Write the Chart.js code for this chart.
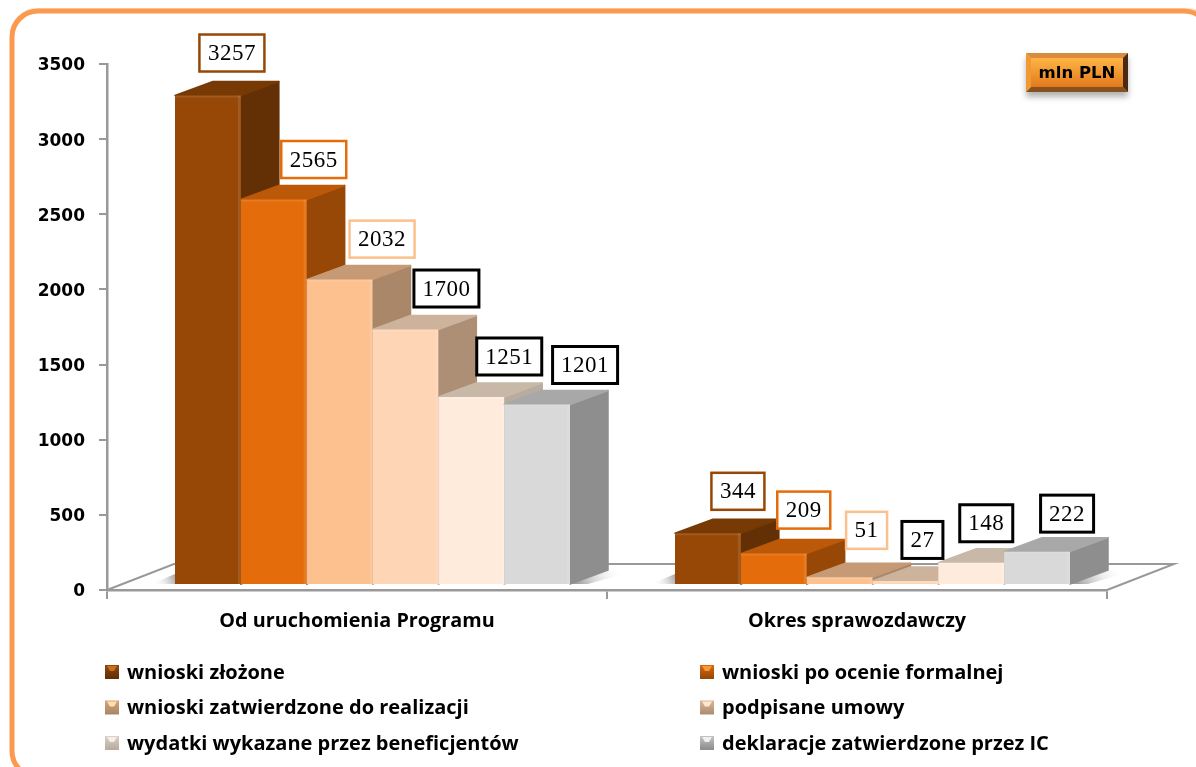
<!DOCTYPE html>
<html lang="pl">
<head>
<meta charset="utf-8">
<title>Wnioski</title>
<script src="https://cdn.jsdelivr.net/npm/chart.js@4"></script>
<style>
html, body { margin: 0; padding: 0; background: #fff; overflow: hidden; }
canvas { display: block; }
</style>
</head>
<body>
<canvas id="barChart" width="1196" height="767"></canvas>
<script>
// Dane wykresu
const categories = ['Od uruchomienia Programu', 'Okres sprawozdawczy'];
const seriesNames = [
    'wnioski złożone',
    'wnioski po ocenie formalnej',
    'wnioski zatwierdzone do realizacji',
    'podpisane umowy',
    'wydatki wykazane przez beneficjentów',
    'deklaracje zatwierdzone przez IC'
];
const wnioskiZlozone = [3257, 344];
const wnioskiPoOcenie = [2565, 209];
const wnioskiZatwierdzone = [2032, 51];
const podpisaneUmowy = [1700, 27];
const wydatkiWykazane = [1251, 148];
const deklaracjeZatwierdzone = [1201, 222];
const yTicks = [0, 500, 1000, 1500, 2000, 2500, 3000, 3500];

// Kolory: przód, bok, góra, ramka etykiety, znacznik legendy
const frontColors = ['#974806', '#E46C0A', '#FCC18F', '#FED5B5', '#FFEBDC', '#D9D9D9'];
const sideColors = ['#623004', '#974806', '#A98768', '#AD8F76', '#B8ACA0', '#8E8E8E'];
const topColors = ['#773A05', '#BC5908', '#C59A75', '#CDB29C', '#C8B8A8', '#A8A8A8'];
const boxColors = ['#974806', '#E46C0A', '#FBC08C', '#000000', '#000000', '#000000'];
const markerBody = ['#8F4A10', '#D9680E', '#D6A47A', '#DDB595', '#DDD0C4', '#C4C4C4'];
const markerLight = ['#C8701F', '#F59A35', '#FFE0A8', '#FFE7CF', '#F8F0E8', '#F0F0F0'];

// Przesunięcia etykiet względem słupka [grupa][seria]
const labelDx = [[24, 40, 42.5, 41, 38, 48], [30, 30, 27, 17, 15, 30]];
const labelDy = [[-42.5, -40, -40.5, -41, -40.5, -39.5], [-42, -43.5, -47, -41, -39.5, -38]];

const depthX = 38, depthY = 14;
const floorX = 67, floorY = 26;
const shiftX = 15.5, shiftY = -5;
const sansFont = '"Open Sans", Lato, sans-serif';

function poly(ctx, pts, fill) {
    ctx.beginPath();
    pts.forEach((p, i) => i ? ctx.lineTo(p[0], p[1]) : ctx.moveTo(p[0], p[1]));
    ctx.closePath();
    ctx.fillStyle = fill;
    ctx.fill();
}

// wielokąt z lekko zaokrąglonymi rogami
function softPoly(ctx, pts, fill) {
    poly(ctx, pts, fill);
    ctx.strokeStyle = fill;
    ctx.lineWidth = 1.5;
    ctx.lineJoin = 'round';
    ctx.stroke();
}

function drawBevel(ctx, x, y, w, h, b, center, topC, rightC, bottomC, leftC) {
    ctx.fillStyle = center;
    ctx.fillRect(x, y, w, h);
    poly(ctx, [[x, y], [x + w, y], [x + w - b, y + b], [x + b, y + b]], topC);
    poly(ctx, [[x + w, y], [x + w, y + h], [x + w - b, y + h - b], [x + w - b, y + b]], rightC);
    poly(ctx, [[x, y + h], [x + w, y + h], [x + w - b, y + h - b], [x + b, y + h - b]], bottomC);
    poly(ctx, [[x, y], [x, y + h], [x + b, y + h - b], [x + b, y + b]], leftC);
}

function drawMarker(ctx, x, y, i) {
    const grad = ctx.createLinearGradient(0, y, 0, y + 13);
    grad.addColorStop(0, markerBody[i]);
    grad.addColorStop(1, sideColors[i]);
    ctx.fillStyle = grad;
    ctx.fillRect(x, y, 14, 14);
    poly(ctx, [[x + 2, y + 1], [x + 12, y + 1], [x + 9, y + 6], [x + 5, y + 6]], markerLight[i]);
}

const ramka3d = {
    id: 'ramka3d',
    beforeDraw(chart) {
        const ctx = chart.ctx;
        ctx.save();
        ctx.fillStyle = '#fff';
        ctx.fillRect(0, 0, chart.width, chart.height);
        ctx.strokeStyle = '#FFE3CC';
        ctx.lineWidth = 2;
        ctx.beginPath();
        ctx.roundRect(11, 9, 1203, 768, 26);
        ctx.stroke();
        ctx.strokeStyle = '#FB9A4E';
        ctx.lineWidth = 5;
        ctx.beginPath();
        ctx.roundRect(12, 11, 1198, 766, 26);
        ctx.stroke();
        ctx.restore();
    },
    beforeDatasetsDraw(chart) {
        const ctx = chart.ctx;
        const xs = chart.scales.x, ys = chart.scales.y;
        const base = ys.bottom;

        // Podłoga
        ctx.save();
        ctx.strokeStyle = '#999999';
        ctx.lineWidth = 2;
        ctx.beginPath();
        ctx.moveTo(xs.left, base);
        ctx.lineTo(xs.left + floorX, base - floorY);
        ctx.lineTo(xs.right + floorX, base - floorY);
        ctx.lineTo(xs.right, base);
        ctx.stroke();
        ctx.restore();

        // Cienie na podłodze
        ctx.save();
        ctx.translate(shiftX, shiftY);
        categories.forEach((c, g) => {
            const first = chart.getDatasetMeta(0).data[g];
            const last = chart.getDatasetMeta(5).data[g];
            const left = first.x - first.width / 2;
            const right = last.x + last.width / 2;
            const b = first.base;
            const sr = ctx.createLinearGradient(right + 8, b, right + 48, b - 22);
            sr.addColorStop(0, 'rgba(130,130,130,0.75)');
            sr.addColorStop(1, 'rgba(255,255,255,0)');
            poly(ctx, [[right, b], [right + depthX, b - depthY], [right + depthX + 30, b - depthY], [right + 18, b]], sr);
            const sl = ctx.createLinearGradient(left - 22, b, left, b - 8);
            sl.addColorStop(0, 'rgba(255,255,255,0)');
            sl.addColorStop(1, 'rgba(130,130,130,0.7)');
            poly(ctx, [[left - 24, b], [left, b - 10], [left, b]], sl);
        });

        // Słupki 3D, od lewej do prawej
        categories.forEach((c, g) => {
            chart.data.datasets.forEach((ds, s) => {
                const el = chart.getDatasetMeta(s).data[g];
                const left = el.x - el.width / 2, right = el.x + el.width / 2;
                softPoly(ctx, [[right, el.y], [right + depthX, el.y - depthY], [right + depthX, el.base - depthY], [right, el.base]], sideColors[s]);
                softPoly(ctx, [[left, el.y], [left + depthX, el.y - depthY], [right + depthX, el.y - depthY], [right, el.y]], topColors[s]);
                el.draw(ctx);
                // jaśniejsze krawędzie frontu
                ctx.fillStyle = 'rgba(255,255,255,0.1)';
                ctx.fillRect(left, el.y, el.width, Math.min(2, el.base - el.y));
                ctx.fillRect(right - 3, el.y, 3, el.base - el.y);
            });
        });
        ctx.restore();
        return false;
    },
    afterDraw(chart) {
        const ctx = chart.ctx;

        // Etykiety wartości
        ctx.save();
        ctx.textAlign = 'center';
        ctx.textBaseline = 'middle';
        ctx.font = '23px "Liberation Serif", serif';
        ctx.letterSpacing = '0.5px';
        chart.data.datasets.forEach((ds, s) => {
            chart.getDatasetMeta(s).data.forEach((el, g) => {
                const text = String(ds.data[g]);
                const cx = el.x + shiftX + labelDx[g][s];
                const cy = el.y + shiftY + labelDy[g][s];
                const w = ctx.measureText(text).width + 17;
                const h = 37;
                ctx.fillStyle = '#fff';
                ctx.fillRect(cx - w / 2, cy - h / 2, w, h);
                ctx.strokeStyle = boxColors[s];
                ctx.lineWidth = s > 2 ? 3 : 2.5;
                ctx.strokeRect(cx - w / 2, cy - h / 2, w, h);
                ctx.fillStyle = '#000';
                ctx.fillText(text, cx, cy + 1);
            });
        });
        ctx.letterSpacing = '0px';
        ctx.restore();

        // Legenda w dwóch kolumnach
        ctx.save();
        ctx.textBaseline = 'middle';
        ctx.textAlign = 'left';
        ctx.font = 'bold 20px ' + sansFont;
        seriesNames.forEach((name, i) => {
            const x = i % 2 ? 700 : 105;
            const y = 672 + Math.floor(i / 2) * 35.5;
            drawMarker(ctx, x, y - 7, i);
            ctx.fillStyle = '#000';
            ctx.fillText(name, x + 22, y + 1);
        });
        ctx.restore();

        // Przycisk "mln PLN"
        ctx.save();
        ctx.shadowColor = 'rgba(0,0,0,0.3)';
        ctx.shadowBlur = 6;
        ctx.shadowOffsetY = 5;
        ctx.fillStyle = '#E98A2C';
        ctx.fillRect(1026, 53, 102, 39);
        ctx.restore();
        ctx.save();
        const fill = ctx.createLinearGradient(0, 58, 0, 87);
        fill.addColorStop(0, '#FFB545');
        fill.addColorStop(1, '#E27A1C');
        drawBevel(ctx, 1026, 53, 102, 39, 5, fill, '#D98B3E', '#4A2A10', '#85521F', '#F09A35');
        ctx.fillStyle = '#000';
        ctx.font = 'bold 16.5px "DejaVu Sans", sans-serif';
        ctx.textAlign = 'center';
        ctx.textBaseline = 'middle';
        ctx.fillText('mln PLN', 1077, 74);
        ctx.restore();
    }
};

const seriesValues = [wnioskiZlozone, wnioskiPoOcenie, wnioskiZatwierdzone, podpisaneUmowy, wydatkiWykazane, deklaracjeZatwierdzone];

window.onload = function() {
    window.barChart = new Chart(document.getElementById('barChart'), {
        type: 'bar',
        data: {
            labels: categories,
            datasets: seriesValues.map((values, i) => ({
                label: seriesNames[i],
                data: values,
                backgroundColor: frontColors[i],
                categoryPercentage: 0.79,
                barPercentage: 1
            }))
        },
        options: {
            responsive: false,
            animation: false,
            layout: { padding: { top: 64, right: 89, left: 0, bottom: 0 } },
            plugins: {
                legend: { display: false },
                tooltip: { enabled: false }
            },
            scales: {
                x: {
                    afterFit(scale) { scale.height = 177; },
                    grid: { drawOnChartArea: false, color: '#999999', tickLength: 9, lineWidth: 2 },
                    border: { color: '#999999', width: 2.5 },
                    ticks: {
                        color: '#000',
                        padding: 10,
                        font: { family: sansFont, size: 19.8, weight: 'bold' }
                    }
                },
                y: {
                    min: 0,
                    max: 3500,
                    afterFit(scale) { scale.width = 107; },
                    afterBuildTicks(scale) { scale.ticks = yTicks.map(v => ({ value: v })); },
                    grid: { drawOnChartArea: false, color: '#999999', tickLength: 8, lineWidth: 2 },
                    border: { color: '#999999', width: 2.5 },
                    ticks: {
                        color: '#000',
                        padding: 14,
                        labelOffset: 2,
                        callback: v => String(v),
                        font: { family: '"DejaVu Sans", sans-serif', size: 17, weight: 'bold' }
                    }
                }
            }
        },
        plugins: [ramka3d]
    });
};
</script>
</body>
</html>
